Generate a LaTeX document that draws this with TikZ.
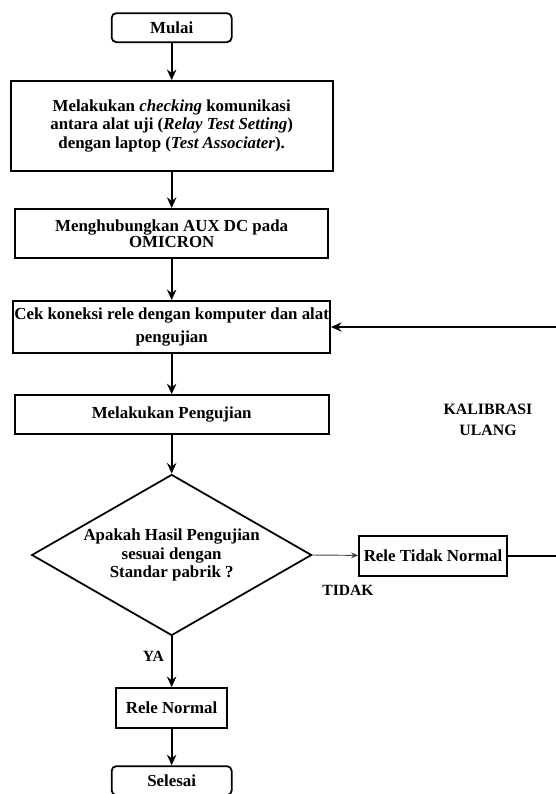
\documentclass[tikz,border=0pt]{standalone}
\usepackage{fontspec}
\setmainfont{Liberation Serif}
\usetikzlibrary{arrows.meta,shapes.geometric}

\begin{document}
\begin{tikzpicture}[
    every node/.style={font=\fontsize{14.4pt}{16pt}\selectfont\bfseries},
    box/.style={draw, line width=1.5pt, align=center, inner sep=1pt},
    terminal/.style={box, rounded corners=4pt, minimum width=3.6cm, minimum height=0.87cm},
    decision/.style={draw, diamond, aspect=1.74, line width=1.5pt, align=center, inner sep=0pt, minimum width=8.4cm, minimum height=4.83cm},
    flow/.style={line width=1.5pt, -{Stealth[length=9pt,width=8pt,inset=3pt]}},
    thinflow/.style={line width=0.8pt, draw=black!75, -{Stealth[length=6pt,width=5pt,inset=2pt]}}
]
    \useasboundingbox (0,0) rectangle (16.65,-23.82);

    % nodes
    \node[terminal] (mulai) at (5.15,-0.83) {Mulai};
    \node[box, minimum width=9.66cm, minimum height=2.7cm] (checking) at (5.15,-3.78)
        {Melakukan \textit{checking} komunikasi\\ antara alat uji (\textit{Relay Test Setting})\\ dengan laptop (\textit{Test Associater}).};
    \node[box, minimum width=9.39cm, minimum height=1.47cm, font=\fontsize{14.4pt}{12pt}\selectfont\bfseries] (aux) at (5.15,-7.0)
        {Menghubungkan AUX DC pada\\ OMICRON};
    \node[box, minimum width=9.39cm, minimum height=1.56cm, font=\fontsize{14.4pt}{19pt}\selectfont\bfseries] (cek) at (5.15,-9.81)
        {Cek koneksi rele dengan komputer dan alat\\ pengujian};
    \node[box, minimum width=9.42cm, minimum height=1.17cm] (uji) at (5.15,-12.44) {Melakukan Pengujian};
    \node[decision] (hasil) at (5.15,-16.65)
        {Apakah Hasil Pengujian\\ sesuai dengan\\ Standar pabrik ?};
    \node[box, minimum width=4.44cm, minimum height=1.2cm] (tidaknormal) at (12.99,-16.68) {Rele Tidak Normal};
    \node[box, minimum width=3.33cm, minimum height=1.2cm] (normal) at (5.15,-21.24) {Rele Normal};
    \node[terminal] (selesai) at (5.15,-23.42) {Selesai};

    % labels
    \node[align=center, font=\fontsize{13.5pt}{18pt}\selectfont\bfseries] (kalibrasi) at (14.64,-12.6) {KALIBRASI\\ ULANG};
    \node[font=\fontsize{13.3pt}{14pt}\selectfont\bfseries] (tidak) at (10.44,-17.7) {TIDAK};
    \node[font=\fontsize{13.3pt}{14pt}\selectfont\bfseries] (ya) at (4.6,-19.7) {YA};
    \coordinate (balik) at (17.2,-16.68);
    \coordinate (balikatas) at (17.2,-9.81);

    % paths
    \draw[flow] (mulai) -- (checking);
    \draw[flow] (checking) -- (aux);
    \draw[flow] (aux) -- (cek);
    \draw[flow] (cek) -- (uji);
    \draw[flow] (uji) -- (hasil);
    \draw[thinflow] (hasil.east) -- (tidaknormal); % tidak
    \draw[flow] (tidaknormal.east) -- (balik) -- (balikatas) -- (cek.east); % kalibrasi ulang
    \draw[flow] (hasil.south) -- (normal); % ya
    \draw[flow] (normal) -- (selesai);

\end{tikzpicture}
\end{document}
